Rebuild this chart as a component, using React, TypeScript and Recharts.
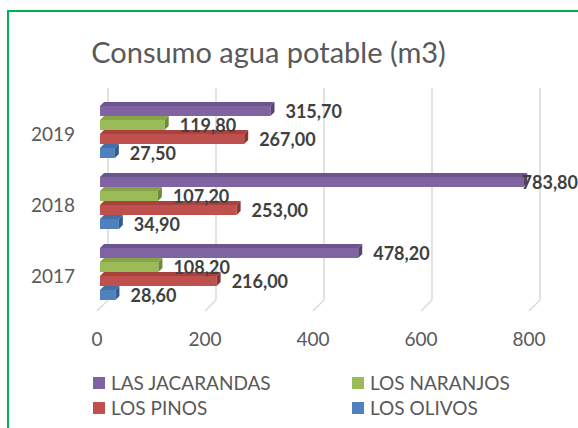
import { Bar, BarChart, CartesianGrid, LabelList, XAxis, YAxis } from "recharts";

const years = ["2019", "2018", "2017"];
const jacarandas = [315.7, 783.8, 478.2];
const naranjos = [119.8, 107.2, 108.2];
const pinos = [267.0, 253.0, 216.0];
const olivos = [27.5, 34.9, 28.6];
const xTicks = [0, 200, 400, 600, 800];

const FONT = "Lato, 'Open Sans', sans-serif";
const W = 578;
const H = 428;
const DEPTH = 4;

const SERIES = [
  { key: "jacarandas", name: "LAS JACARANDAS", color: "#8064a2", top: "#6c5490", side: "#58436f" },
  { key: "naranjos", name: "LOS NARANJOS", color: "#9bbb59", top: "#86a448", side: "#6d8a36" },
  { key: "pinos", name: "LOS PINOS", color: "#c0504d", top: "#a8423f", side: "#8c3432" },
  { key: "olivos", name: "LOS OLIVOS", color: "#4f81bd", top: "#416fa6", side: "#345b8a" },
];

// legend goes 2 x 2, same as the excel original
const LEGEND_ROWS = [
  [SERIES[0], SERIES[1]],
  [SERIES[2], SERIES[3]],
];

const data = years.map((year, i) => ({
  year,
  jacarandas: jacarandas[i],
  naranjos: naranjos[i],
  pinos: pinos[i],
  olivos: olivos[i],
}));

function Bar3D(props: any) {
  const { x, y, width, height, fill, top, side } = props;
  if (!width || width <= 0) return null;
  const d = DEPTH;
  return (
    <g>
      <rect x={x} y={y + d} width={width} height={height - d} fill={fill} />
      <polygon
        points={`${x},${y + d} ${x + d},${y} ${x + width + d},${y} ${x + width},${y + d}`}
        fill={top}
      />
      <polygon
        points={`${x + width},${y + d} ${x + width + d},${y} ${x + width + d},${y + height - d} ${x + width},${y + height}`}
        fill={side}
      />
    </g>
  );
}

function ValueLabel(props: any) {
  const vb = props.viewBox && props.viewBox.width != null ? props.viewBox : props;
  const { x, y, width, height } = vb;
  const text = Number(props.value).toFixed(2).replace(".", ",");
  let tx = x + width + 15;
  let anchor: "start" | "end" = "start";
  if (tx + 62 > W) {
    tx = W;
    anchor = "end";
  }
  return (
    <text
      x={tx}
      y={y + height / 2 + 2}
      textAnchor={anchor}
      dominantBaseline="central"
      fill="#404040"
      fontSize={18}
      fontWeight="bold"
      fontFamily={FONT}
    >
      {text}
    </text>
  );
}

function YTick({ x, y, payload }: any) {
  return (
    <text
      x={x}
      y={y + 4}
      textAnchor="end"
      dominantBaseline="central"
      fill="#595959"
      fontSize={19}
      fontFamily={FONT}
    >
      {payload.value}
    </text>
  );
}

function XTick({ x, y, payload }: any) {
  return (
    <g>
      <line x1={x + 8} y1={y - 7} x2={x - 3} y2={y + 4} stroke="#d9d9d9" strokeWidth={1.5} />
      <text
        x={x - 3}
        y={y + 31}
        textAnchor="middle"
        dominantBaseline="central"
        fill="#595959"
        fontSize={19}
        fontFamily={FONT}
      >
        {payload.value}
      </text>
    </g>
  );
}

export default function App() {
  return (
    <div
      style={{
        position: "absolute",
        left: 0,
        top: 0,
        width: W,
        height: H,
        background: "#fff",
        overflow: "hidden",
        fontFamily: FONT,
      }}
    >
      {/* only the top and left edges of the frame show in the original */}
      <div
        style={{
          position: "absolute",
          left: 7,
          top: 10,
          width: W - 7,
          height: H - 10,
          borderTop: "2px solid #00b050",
          borderLeft: "2px solid #00b050",
          boxSizing: "border-box",
        }}
      />
      <div
        style={{
          position: "absolute",
          left: 0,
          top: 37,
          width: 537,
          textAlign: "center",
          fontSize: 29,
          lineHeight: "29px",
          color: "#595959",
        }}
      >
        Consumo agua potable (m3)
      </div>
      <div style={{ position: "absolute", left: 0, top: 0 }}>
        <BarChart
          width={W}
          height={H}
          data={data}
          layout="vertical"
          margin={{ top: 94, right: 46, bottom: 81, left: 40 }}
          barCategoryGap={8}
          barGap={0}
        >
          <CartesianGrid
            horizontal={false}
            stroke="#d9d9d9"
            strokeWidth={1.5}
            y={88}
            height={212}
            verticalCoordinatesGenerator={({ xAxis, offset }: any) => {
              const s = xAxis?.scale;
              if (typeof s === "function") return xTicks.map((t) => s(t) + 8);
              return xTicks.map((t) => offset.left + (t / 800) * offset.width + 8);
            }}
          />
          <XAxis
            type="number"
            domain={[0, 800]}
            ticks={xTicks}
            axisLine={false}
            tickLine={false}
            tickSize={0}
            tickMargin={0}
            height={40}
            tick={<XTick />}
            interval={0}
          />
          <YAxis
            type="category"
            dataKey="year"
            width={60}
            axisLine={false}
            tickLine={false}
            tickSize={0}
            tickMargin={25}
            tick={<YTick />}
          />
          {SERIES.map((s) => (
            <Bar
              key={s.key}
              dataKey={s.key}
              name={s.name}
              fill={s.color}
              isAnimationActive={false}
              shape={(p: any) => <Bar3D {...p} top={s.top} side={s.side} />}
            >
              <LabelList dataKey={s.key} content={<ValueLabel />} />
            </Bar>
          ))}
        </BarChart>
      </div>
      {LEGEND_ROWS.map((row, r) => (
        <div
          key={r}
          style={{
            position: "absolute",
            left: 93,
            top: 370 + r * 25,
            height: 25,
            display: "flex",
            alignItems: "center",
          }}
        >
          {row.map((s, c) => (
            <div
              key={s.key}
              style={{
                display: "flex",
                alignItems: "center",
                width: c === 0 ? 259 : 200,
              }}
            >
              <span
                style={{
                  display: "inline-block",
                  width: 12,
                  height: 12,
                  background: s.color,
                  marginRight: 6,
                }}
              />
              <span style={{ fontSize: 19, color: "#595959" }}>{s.name}</span>
            </div>
          ))}
        </div>
      ))}
    </div>
  );
}
